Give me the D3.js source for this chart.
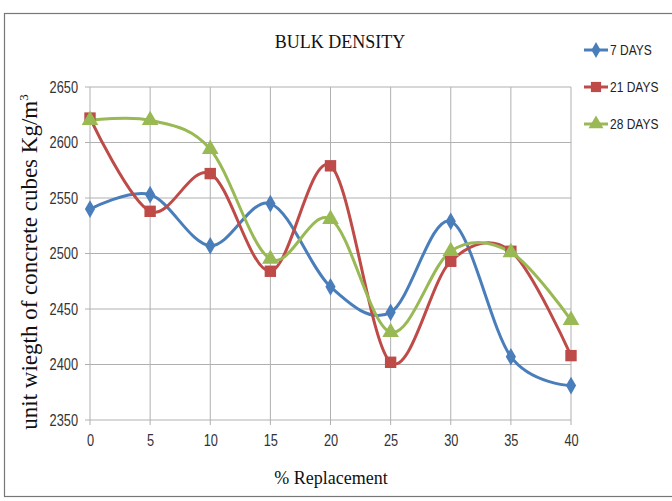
<!DOCTYPE html>
<html>
<head>
<meta charset="utf-8">
<script src="https://cdn.jsdelivr.net/npm/d3@7"></script>
<style>
  body { margin: 0; background: #fff; }
  svg { display: block; }
  .tick text { font-family: "Liberation Sans", Arial, sans-serif; font-size: 16px; fill: #333; }
  .serif { font-family: "Liberation Serif", "DejaVu Serif", serif; fill: #111; }
</style>
</head>
<body>
<div id="chart"></div>
<script>
// % replacement values on the x axis
const replacement = [0, 5, 10, 15, 20, 25, 30, 35, 40];

// bulk density readings (kg/m3) per curing age
const days7 = [2540, 2553, 2507, 2545, 2470, 2447, 2529, 2407, 2381];
const days21 = [2622, 2538, 2572, 2484, 2579, 2402, 2493, 2502, 2408];
const days28 = [2620, 2620, 2594, 2495, 2531, 2429, 2502, 2501, 2440];

const seriesNames = ["7 DAYS", "21 DAYS", "28 DAYS"];
const yTicks = [2350, 2400, 2450, 2500, 2550, 2600, 2650];

const width = 672, height = 501;
const margin = { top: 87, right: 101, bottom: 80, left: 90 };
const narrow = 0.8; // squeeze factor for the condensed label font

const svg = d3.select("#chart").append("svg")
  .attr("width", width)
  .attr("height", height);

// outer chart border
svg.append("rect")
  .attr("x", 4.5).attr("y", 13.5)
  .attr("width", 700).attr("height", 483)
  .attr("fill", "none")
  .attr("stroke", "#777")
  .attr("stroke-width", 1.2);

const x = d3.scaleLinear().domain([0, 40]).range([margin.left, width - margin.right]);
const y = d3.scaleLinear().domain([2350, 2650]).range([height - margin.bottom - 1, margin.top]);

// gridlines
svg.append("g")
  .selectAll("line")
  .data(replacement)
  .enter().append("line")
  .attr("x1", d => x(d)).attr("x2", d => x(d))
  .attr("y1", y(2650)).attr("y2", y(2350) + 5)
  .attr("stroke", "#b0b0b0").attr("stroke-width", 1);

svg.append("g")
  .selectAll("line")
  .data(yTicks)
  .enter().append("line")
  .attr("x1", x(0) - 5).attr("x2", x(40))
  .attr("y1", d => y(d)).attr("y2", d => y(d))
  .attr("stroke", "#b0b0b0").attr("stroke-width", 1);

// axes (labels only, the lines are the gridlines above)
const xAxis = svg.append("g")
  .attr("transform", `translate(0, ${y(2350)})`)
  .call(d3.axisBottom(x).tickValues(replacement).tickSize(0).tickPadding(15).tickFormat(d3.format("d")));
xAxis.select(".domain").remove();
xAxis.selectAll(".tick text").attr("transform", `scale(${narrow},1)`);

const yAxis = svg.append("g")
  .attr("transform", `translate(${x(0)}, 0)`)
  .call(d3.axisLeft(y).tickValues(yTicks).tickSize(0).tickPadding(15).tickFormat(d3.format("d")));
yAxis.select(".domain").remove();
yAxis.selectAll(".tick text").attr("transform", `scale(${narrow},1)`);

// titles
svg.append("text").attr("class", "serif")
  .attr("x", 340).attr("y", 48)
  .attr("text-anchor", "middle")
  .style("font-size", "18px")
  .text("BULK DENSITY");

svg.append("text").attr("class", "serif")
  .attr("x", 331).attr("y", 484)
  .attr("text-anchor", "middle")
  .style("font-size", "18px")
  .text("% Replacement");

const yTitle = svg.append("text").attr("class", "serif")
  .attr("transform", `translate(37, 262) rotate(-90)`)
  .attr("text-anchor", "middle")
  .style("font-size", "23px");
yTitle.append("tspan").text("unit wiegth of concrete cubes Kg/m");
yTitle.append("tspan").attr("dy", -9).style("font-size", "13px").text("3");

// series
const colors = ["#4a7ebb", "#be4b48", "#98b954"];
const seriesData = [days7, days21, days28];
const symbols = [d3.symbolDiamond, d3.symbolSquare, d3.symbolTriangle];
const symSizes = [90, 130, 120];

const line = d3.line()
  .x((d, i) => x(replacement[i]))
  .y(d => y(d))
  .curve(d3.curveCatmullRom.alpha(0));

seriesData.forEach((vals, k) => {
  svg.append("path")
    .datum(vals)
    .attr("d", line)
    .attr("fill", "none")
    .attr("stroke", colors[k])
    .attr("stroke-width", 3);
});

seriesData.forEach((vals, k) => {
  svg.append("g")
    .selectAll("path")
    .data(vals)
    .enter().append("path")
    .attr("transform", (d, i) => `translate(${x(replacement[i])}, ${y(d)})`)
    .attr("d", d3.symbol().type(symbols[k]).size(symSizes[k]))
    .attr("fill", colors[k]);
});

// legend
const legend = svg.append("g");
seriesNames.forEach((name, k) => {
  const ly = 50 + k * 37;
  const g = legend.append("g").attr("transform", `translate(584, ${ly})`);
  g.append("line")
    .attr("x1", 0).attr("x2", 24).attr("y1", 0).attr("y2", 0)
    .attr("stroke", colors[k]).attr("stroke-width", 3);
  g.append("path")
    .attr("transform", "translate(12, 0)")
    .attr("d", d3.symbol().type(symbols[k]).size(symSizes[k] * 0.8))
    .attr("fill", colors[k]);
  g.append("text")
    .attr("transform", `translate(26, 5) scale(${narrow},1)`)
    .style("font-family", "\"Liberation Sans\", Arial, sans-serif")
    .style("font-size", "15px")
    .style("fill", "#222")
    .text(name);
});
</script>
</body>
</html>
